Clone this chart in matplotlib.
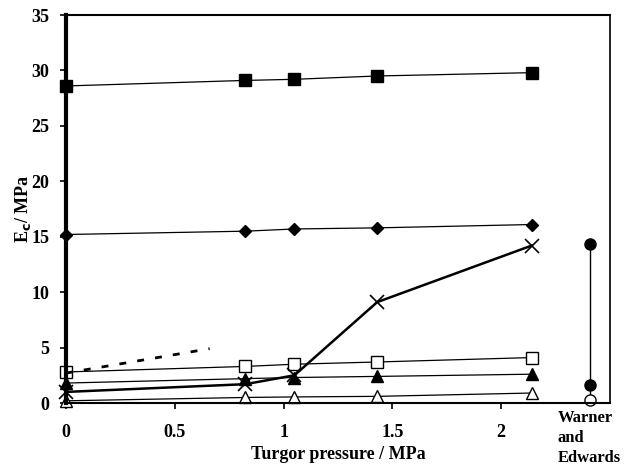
import matplotlib
matplotlib.use("Agg")
import matplotlib.pyplot as plt

plt.rcParams['font.family'] = ['Liberation Serif', 'DejaVu Serif']
plt.rcParams['font.weight'] = 'bold'

# turgor pressure (MPa)
turgor = [0, 0.825, 1.05, 1.43, 2.14]

# elastic modulus series (MPa)
filled_square = [28.6, 29.1, 29.2, 29.5, 29.8]
filled_diamond = [15.2, 15.5, 15.7, 15.8, 16.1]
cross = [1.0, 1.7, 2.5, 9.1, 14.2]
open_square = [2.8, 3.3, 3.5, 3.7, 4.1]
filled_triangle = [1.8, 2.2, 2.3, 2.4, 2.6]
open_triangle = [0.2, 0.5, 0.55, 0.6, 0.9]

# dashed trend
dash_x = [0, 0.66]
dash_y = [2.7, 4.9]

# Warner and Edwards values
we_x = 2.41
we_filled = [14.3, 1.6]
we_open = 0.25

fig = plt.figure(figsize=(6.26, 4.69), dpi=100)
ax = fig.add_axes([0.1054, 0.1407, 0.869, 0.8273])

ax.plot(turgor, filled_square, color='black', lw=0.9, marker='s', ms=8, mfc='black', clip_on=False)
ax.plot(turgor, filled_diamond, color='black', lw=0.9, marker='D', ms=6, mfc='black', clip_on=False)
ax.plot(turgor, open_square, color='black', lw=0.9, marker='s', ms=8, mfc='white', clip_on=False)
ax.plot(turgor, filled_triangle, color='black', lw=0.9, marker='^', ms=8, mfc='black', clip_on=False)
ax.plot(turgor, open_triangle, color='black', lw=0.9, marker='^', ms=8, mfc='white', clip_on=False)
ax.plot(turgor, cross, color='black', lw=1.8, marker='x', ms=10, mew=1.2, clip_on=False)
ax.plot(dash_x, dash_y, color='black', lw=2, ls=(0, (2.5, 4)))

ax.plot([we_x, we_x], [we_filled[0], we_open], color='black', lw=1.0)
ax.plot([we_x] * 2, we_filled, ls='none', marker='o', ms=8, color='black')
ax.plot([we_x], [we_open], ls='none', marker='o', ms=8, mfc='white', color='black', clip_on=False)

ax.set_xlim(0, 2.5)
ax.set_ylim(0, 35)
ax.set_xticks([0, 0.5, 1, 1.5, 2])
ax.set_xticklabels(['0', '0.5', '1', '1.5', '2'])
ax.set_yticks(range(0, 36, 5))
ax.tick_params(labelsize=13, length=4, width=1.2)
ax.tick_params(axis='x', pad=11)
ax.tick_params(axis='y', pad=8)

ax.spines['left'].set_linewidth(3)
ax.spines['bottom'].set_linewidth(1.5)
ax.spines['top'].set_linewidth(1.5)
ax.spines['right'].set_linewidth(1.2)

ax.set_xlabel('Turgor pressure / MPa', fontsize=13, fontweight='bold', labelpad=4)
ax.set_ylabel(r'E$_\mathbf{c}$/ MPa', fontsize=13, fontweight='bold', labelpad=-1)

fig.text(0.891, 0.125, 'Warner\nand\nEdwards', fontsize=12, fontweight='bold',
         ha='left', va='top', linespacing=1.3)

fig.savefig('out.png', dpi=100)
